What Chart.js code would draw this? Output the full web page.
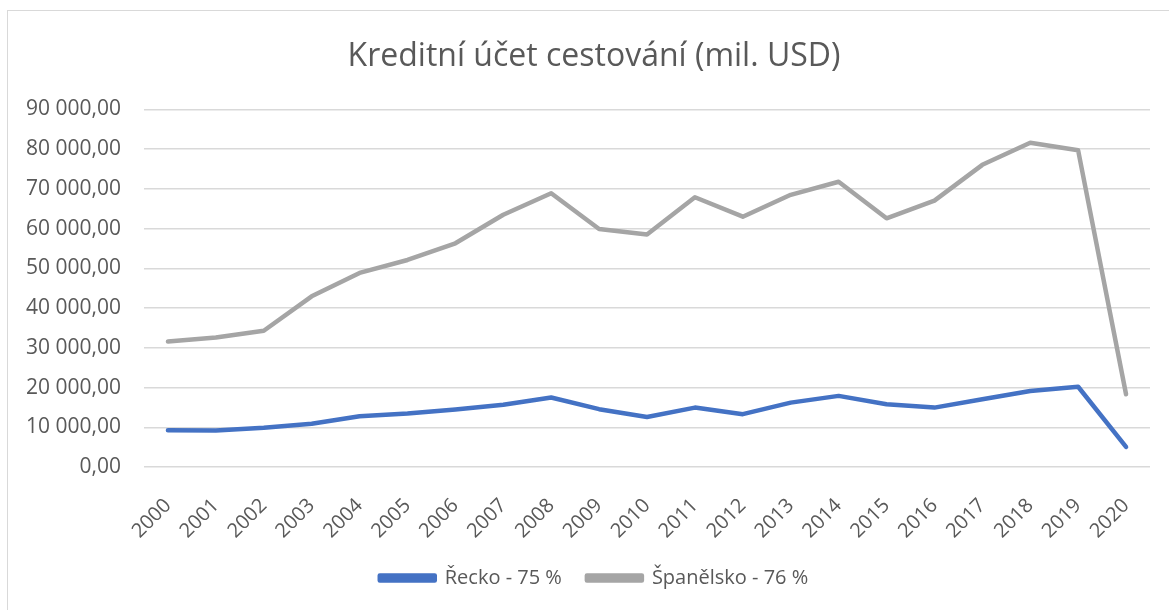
<!DOCTYPE html>
<html>
<head>
<meta charset="utf-8">
<script src="https://cdn.jsdelivr.net/npm/chart.js@4"></script>
<style>
  html, body { margin: 0; padding: 0; background: #fff; overflow: hidden; }
  #frame { position: absolute; left: 7px; top: 10px; width: 1200px; height: 640px; border: 1px solid #d9d9d9; box-sizing: border-box; }
  #chart { position: absolute; left: 0; top: 0; }
</style>
</head>
<body>
<div id="frame"></div>
<canvas id="chart" width="1169" height="610"></canvas>
<script>
// Data
var years = ['2000','2001','2002','2003','2004','2005','2006','2007','2008','2009','2010',
             '2011','2012','2013','2014','2015','2016','2017','2018','2019','2020'];
var recko = [9250, 9200, 9900, 10900, 12750, 13450, 14450, 15650, 17500, 14550, 12600,
             14950, 13300, 16200, 17900, 15800, 14950, 17050, 19150, 20200, 5050];
var spanelsko = [31600, 32600, 34300, 42950, 48850, 52100, 56300, 63500, 68900, 59900, 58500,
                 67900, 63000, 68500, 71800, 62600, 67050, 76050, 81600, 79700, 18300];
var seriesNames = ['Řecko - 75 %', 'Španělsko - 76 %'];
var chartTitle = 'Kreditní účet cestování (mil. USD)';

var textColor = '#595959';
var fontFamily = '"Open Sans", "Noto Sans", sans-serif';

function czNumber(v) {
    // 90000 -> "90 000,00"
    var s = Math.round(v).toString().replace(/\B(?=(\d{3})+(?!\d))/g, ' ');
    return s + ',00';
}

// the original frame is wider than the window, so title and legend sit a bit right of centre
var frameCentre = {
    id: 'frameCentre',
    afterLayout: function(chart) {
        [chart.titleBlock, chart.legend].forEach(function(box) {
            box.left += 15;
            box.right += 15;
        });
    }
};

var ctx = document.getElementById('chart').getContext('2d');
new Chart(ctx, {
    type: 'line',
    data: {
        labels: years,
        datasets: [{
            label: seriesNames[0],
            data: recko,
            borderColor: '#4472C4',
            backgroundColor: '#4472C4',
            borderWidth: 4.5,
            pointRadius: 0,
            tension: 0,
            borderCapStyle: 'round',
            borderJoinStyle: 'round'
        }, {
            label: seriesNames[1],
            data: spanelsko,
            borderColor: '#A5A5A5',
            backgroundColor: '#A5A5A5',
            borderWidth: 4.5,
            pointRadius: 0,
            tension: 0,
            borderCapStyle: 'round',
            borderJoinStyle: 'round'
        }]
    },
    options: {
        responsive: false,
        animation: false,
        layout: { padding: { left: 8, right: 19, top: 10, bottom: 12 } },
        plugins: {
            title: {
                display: true,
                text: chartTitle,
                color: textColor,
                font: { family: fontFamily, size: 32, weight: 'normal' },
                padding: { top: 28, bottom: 33 }
            },
            legend: {
                position: 'bottom',
                labels: {
                    color: textColor,
                    font: { family: fontFamily, size: 20 },
                    boxWidth: 55,
                    boxHeight: 5,
                    padding: 25
                }
            },
            tooltip: { enabled: false }
        },
        scales: {
            x: {
                offset: true,
                grid: { display: false },
                border: { display: false },
                ticks: {
                    color: textColor,
                    font: { family: fontFamily, size: 20 },
                    autoSkip: false,
                    minRotation: 45,
                    maxRotation: 45,
                    padding: 19
                },
                afterFit: function(scale) { scale.height = 76; }
            },
            y: {
                min: 0,
                max: 90000,
                grid: { color: '#d9d9d9', lineWidth: 1.5, drawTicks: false },
                border: { display: false },
                ticks: {
                    stepSize: 10000,
                    color: textColor,
                    font: { family: fontFamily, size: 21 },
                    padding: 23,
                    callback: function(v) { return czNumber(v); }
                },
                afterFit: function(scale) { scale.width = 136; }
            }
        }
    },
    plugins: [frameCentre]
});
</script>
</body>
</html>
